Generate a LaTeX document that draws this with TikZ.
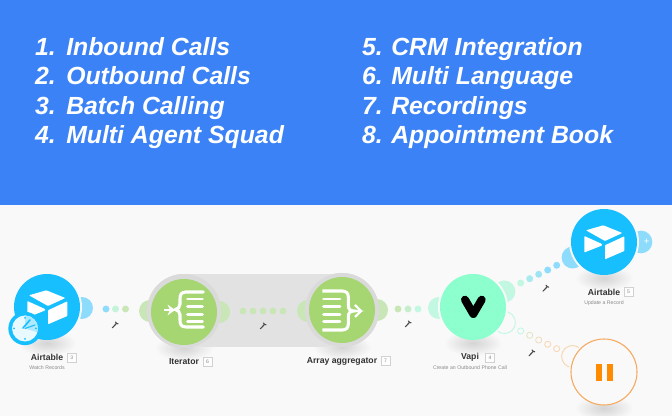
\documentclass[tikz,border=0pt]{standalone}
\usepackage{fontspec}
\usetikzlibrary{shapes.geometric}
\setmainfont{Liberation Sans}
\definecolor{topblue}{HTML}{3B82F6}
\definecolor{canvas}{HTML}{F9F9F9}
\definecolor{atblue}{HTML}{18BFFF}
\definecolor{atlight}{HTML}{8EDCFC}
\definecolor{leaf}{HTML}{A5D672}
\definecolor{leaflight}{HTML}{C9E6B6}
\definecolor{mint}{HTML}{8DFFCF}
\definecolor{mintlight}{HTML}{C2F8E2}
\definecolor{orangeedge}{HTML}{F5A95F}
\definecolor{orangebar}{HTML}{FF8C00}
\definecolor{orangelight}{HTML}{F8D6B0}
\definecolor{bandgrey}{HTML}{E2E2E2}
\definecolor{ringgrey}{HTML}{DADADA}
\definecolor{labeltext}{HTML}{333333}
\definecolor{subtext}{HTML}{8A8A8A}
\tikzset{
  x=0.75pt,y=-0.75pt,
  module/.style={circle,minimum size=49.5pt,inner sep=0pt,outer sep=0pt},
  lobe/.style={circle,minimum size=16.5pt,inner sep=0pt,outer sep=0pt},
  cover/.style={circle,minimum size=52.5pt,inner sep=0pt,fill=canvas},
  ringed/.style={circle,minimum size=55.5pt,inner sep=0pt,fill=ringgrey},
  dotnode/.style={circle,minimum size=5.2pt,inner sep=0pt,outer sep=0pt},
  ringdot/.style={circle,minimum size=4.6pt,inner sep=0pt,outer sep=0pt,draw,line width=0.6pt},
  headline/.style={text=white,font=\fontsize{18.6pt}{22pt}\selectfont\bfseries\itshape,inner sep=0pt},
  modlabel/.style={text=labeltext,font=\fontsize{6.5pt}{8pt}\selectfont\bfseries,inner sep=0pt},
  sublabel/.style={text=subtext,font=\fontsize{3.9pt}{5pt}\selectfont,inner sep=0pt},
  badge/.style={draw=black!18,line width=0.4pt,fill=white!60!canvas,text=subtext,minimum size=6.6pt,inner sep=0pt,font=\fontsize{3.8pt}{5pt}\selectfont},
  glow/.style={ellipse,minimum width=44pt,minimum height=19pt,inner sep=0pt,inner color=black!17,outer color=canvas,draw=none},
  iconline/.style={white,line width=2.3pt,line cap=round},
  iconbar/.style={white,line width=2pt,line cap=round},
  spanner/.style={draw=black!70,line width=0.85pt,line cap=round}
}
\newcommand{\cubeicon}[2]{\begin{scope}[shift={(#1,#2)}]
  \fill[white,rounded corners=0.5pt] (-18,-11.7) -- (-0.7,-16.7) -- (18.3,-9) -- (1,-1) -- cycle;
  \fill[white,rounded corners=0.5pt] (-19.7,-6) -- (-2,2) -- (-2,3.5) -- (-19.7,10.5) -- cycle;
  \fill[white,rounded corners=0.5pt] (1,3.3) -- (20.3,-5.7) -- (20.3,9) -- (1,17.3) -- cycle;
\end{scope}}
\newcommand{\spannericon}[2]{\begin{scope}[shift={(#1,#2)}]
  \draw[spanner] (-2.6,2.8) -- (1.5,-1.6);
  \draw[spanner] (0.4,-3) -- (1.5,-1.6) -- (3,-1.2);
\end{scope}}
\begin{document}
\begin{tikzpicture}
\path[use as bounding box] (0,0) rectangle (672,416);
\fill[canvas] (0,205) rectangle (672,416);
\fill[topblue] (0,0) rectangle (672,205);
% headline list
\foreach \n/\t/\y in {1/Inbound Calls/56,2/Outbound Calls/85,3/Batch Calling/114.3,4/Multi Agent Squad/143.3}{
  \node[headline,anchor=base east] (num\n) at (56,\y) {\n.};
  \node[headline,anchor=base west] (txt\n) at (66,\y) {\t};
}
\foreach \n/\t/\y in {5/CRM Integration/56,6/Multi Language/85,7/Recordings/114.3,8/Appointment Book/143.3}{
  \node[headline,anchor=base east] (num\n) at (383,\y) {\n.};
  \node[headline,anchor=base west] (txt\n) at (391,\y) {\t};
}
% shadows under the band
\foreach \nm/\cx/\cy in {b/184/348,c/342/347}{
  \node[glow] (shadow\nm) at (\cx,\cy) {};
}
% lobes of plain modules
\node[lobe,fill=atlight] (l1) at (82,308) {};
\node[cover] at (47,307) {};
\node[lobe,fill=mintlight] (l2) at (439,308) {};
\node[lobe,fill=mintlight] (l3) at (504.4,291.5) {};
\node[lobe,draw=mintlight,line width=0.7pt] (l4) at (504.4,322.5) {};
\node[cover] at (473,307) {};
\node[lobe,fill=atlight] (l5) at (572.6,257.5) {};
\node[lobe,fill=atlight,minimum size=17pt] (l6) at (641,242) {};
\node[cover] at (604,242) {};
\node[lobe,draw=orangelight,line width=0.7pt] (l7) at (572.6,356.5) {};
\node[cover] at (604,372) {};
% remaining shadows
\foreach \nm/\cx/\cy in {a/47/343,d/473/343,e/604/278,f/604/408}{
  \node[glow] (shadow\nm) at (\cx,\cy) {};
}
% aggregation band and its lobes
\node[lobe,fill=leaflight] (l8) at (150,311) {};
\node[lobe,fill=leaflight] (l11) at (377,310) {};
\node[ringed] (ringa) at (184,311) {};
\node[ringed] (ringb) at (342,310) {};
\fill[bandgrey] (184,274) rectangle (342,347);
\node[lobe,fill=leaflight] (l9) at (219,312) {};
\node[lobe,fill=leaflight] (l10) at (308,311) {};
\node[ringed] at (184,311) {};
\node[ringed] at (342,310) {};
% modules
\node[module,fill=atblue] (airtableA) at (47,307) {};
\node[module,fill=leaf] (iterator) at (184,312) {};
\node[module,fill=leaf] (aggregator) at (342,310) {};
\node[module,fill=mint] (vapi) at (473,307) {};
\node[module,fill=atblue] (airtableB) at (604,242) {};
\node[module,fill=canvas,draw=orangeedge,line width=0.8pt] (pause) at (604,372) {};
% dots
\foreach \i/\x/\y/\c in {1/106/309/atlight,2/115.5/309/mintlight!80!leaflight,3/125.5/309/leaflight}{
  \node[dotnode,fill=\c] (da\i) at (\x,\y) {};}
\foreach \i/\x in {1/243,2/253,3/263,4/273,5/283}{
  \node[dotnode,fill=leaflight] (db\i) at (\x,311) {};}
\foreach \i/\x/\c in {1/398/leaflight,2/408/leaflight!50!mintlight,3/418/mintlight}{
  \node[dotnode,fill=\c] (dc\i) at (\x,309) {};}
\foreach \i/\x/\y/\c in {1/520.7/283/mintlight,2/529.7/278.7/mintlight!50!atlight,3/538.7/274.3/mintlight!30!atlight,4/547.7/270/atlight,5/556.7/265.3/atlight}{
  \node[dotnode,fill=\c] (dd\i) at (\x,\y) {};}
\foreach \i/\x/\y/\c in {1/520.7/331/mintlight,2/529.7/335.3/mintlight!40!orangelight,3/538.7/340/mintlight!20!orangelight,4/547.7/344.3/orangelight,5/556.7/348.7/orangelight}{
  \node[ringdot,draw=\c] (de\i) at (\x,\y) {};}
% spanners
\spannericon{115}{325}\spannericon{263}{326}\spannericon{408}{324}\spannericon{545.7}{288.3}\spannericon{531.7}{353}
% airtable icons
\cubeicon{47}{307}\cubeicon{604}{242}
\node[text=white,font=\fontsize{7pt}{8pt}\selectfont,inner sep=0pt] (plus) at (646.5,241.5) {+};
% clock
\node[circle,minimum size=25pt,inner sep=0pt,fill=atblue] (clockrim) at (25,328.5) {};
\node[circle,minimum size=19.5pt,inner sep=0pt,fill=white!90!atblue] (clockface) at (25,328.5) {};
\begin{scope}
  \clip (25,328.5) circle [radius=13];
  \fill[atblue!35] (25,328.5) -- (25,314) -- (40,314) -- (40,333) -- cycle;
\end{scope}
\draw[atblue,line width=1.2pt,line cap=round] (23,328) -- (30,320);
\draw[atblue,line width=0.8pt,line cap=round] (25,328.5) -- (35,325);
\foreach \p in {(25,318),(14,328.5),(25,339),(36,328.5)}{\fill[atblue] \p circle [radius=1];}
% vapi texture
\begin{scope}
  \clip (473,307) circle [radius=33];
  \foreach \gx in {0,...,9}{\foreach \gy in {0,...,9}{
    \fill[mint!88!black] (441+\gx*7,275+\gy*7) circle [radius=0.4];}}
\end{scope}
% iterator icon
\draw[iconline] (203.3,292) -- (186,292) .. controls (181,292) and (180,295) .. (180,299) -- (180,304) .. controls (180,307) and (178,309) .. (175.5,309.5) .. controls (178,310) and (180,312) .. (180,315) -- (180,320) .. controls (180,324) and (181,327) .. (186,327) -- (203.3,327);
\foreach \y in {299,306.7,314.3,321.7}{\draw[iconbar] (187.5,\y) -- (202.5,\y);}
\draw[white,line width=1.7pt] (163.5,310) -- (171,310);
\fill[white] (175,310) -- (167.5,304.5) -- (170,310) -- (167.5,315.5) -- cycle;
% aggregator icon
\draw[iconline,line cap=butt] (322.3,291) -- (342,291) .. controls (346,291) and (348.3,293) .. (348.3,297) -- (348.3,305) .. controls (348.3,309) and (350,311) .. (354,311) .. controls (350,311) and (348.3,313) .. (348.3,317) -- (348.3,324) .. controls (348.3,328) and (346,330) .. (342,330) -- (322.3,330);
\foreach \y in {299,306.7,314.3,321.7}{\draw[iconbar] (323.5,\y) -- (340,\y);}
\draw[white,line width=1.8pt] (350,311) -- (360,311);
\draw[white,line width=1.8pt] (355,305) -- (361,311) -- (355,317);
% V icon
\draw[black,line width=6pt,line cap=round,line join=round] (465,299.7) -- (473.3,314) -- (481.7,299.7);
% pause icon
\fill[orangebar] (595.7,364.3) rectangle (602.3,381);
\fill[orangebar] (606.7,364.3) rectangle (613.3,381);
% labels
\node[modlabel] (lblA) at (47,357.5) {Airtable};
\node[badge] (badgeA) at (71.7,357.7) {3};
\node[sublabel] (subA) at (47,368) {Watch Records};
\node[modlabel] (lblB) at (184,362) {Iterator};
\node[badge] (badgeB) at (207.5,362) {6};
\node[modlabel] (lblC) at (342,361) {Array aggregator};
\node[badge] (badgeC) at (385.5,361) {7};
\node[modlabel] (lblD) at (470,357.5) {Vapi};
\node[badge] (badgeD) at (490,357.5) {4};
\node[sublabel] (subD) at (470,368) {Create an Outbound Phone Call};
\node[modlabel] (lblE) at (604,292) {Airtable};
\node[badge] (badgeE) at (628.5,292) {5};
\node[sublabel] (subE) at (604,303) {Update a Record};
\end{tikzpicture}
\end{document}
